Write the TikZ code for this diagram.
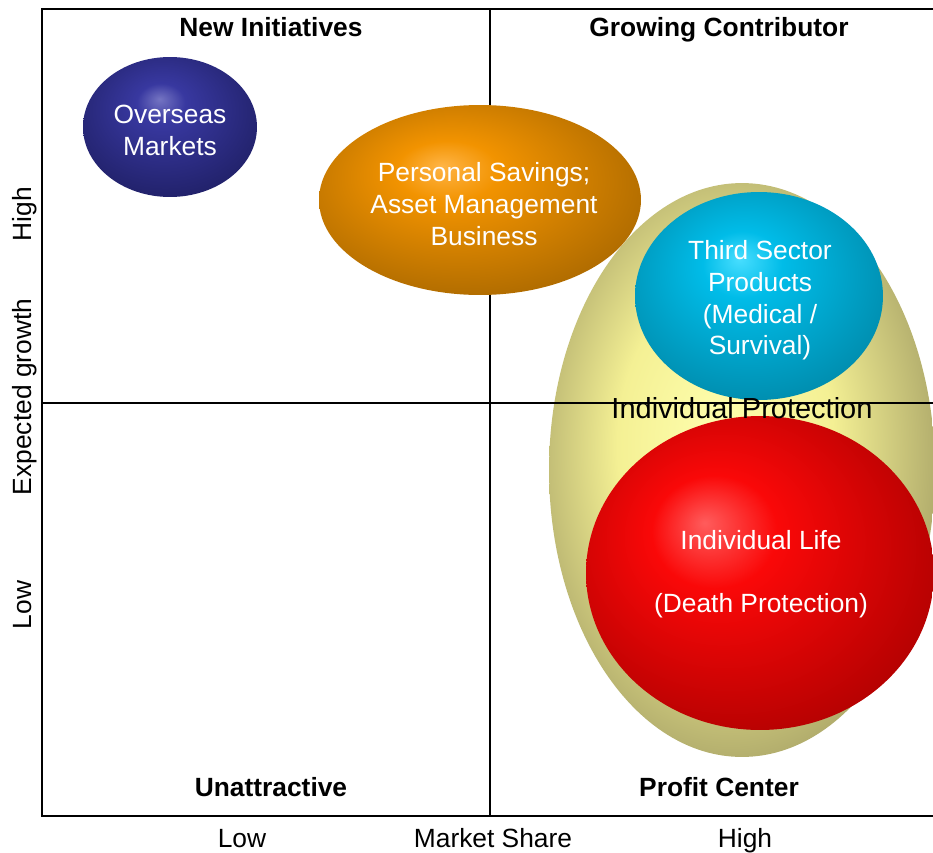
\documentclass[tikz,border=0pt]{standalone}
\usepackage{fontspec}
\setmainfont{Liberation Sans}
\usetikzlibrary{shapes.geometric}

\definecolor{navyhi}{HTML}{7474C2}
\definecolor{navymid}{HTML}{3838A0}
\definecolor{navylo}{HTML}{1E1E62}
\definecolor{amberhi}{HTML}{FFB445}
\definecolor{ambermid}{HTML}{F29300}
\definecolor{amberlo}{HTML}{A66600}
\definecolor{olivehi}{HTML}{FFFFAE}
\definecolor{olivemid}{HTML}{F4F094}
\definecolor{olivelo}{HTML}{B1AC6C}
\definecolor{cyanhi}{HTML}{48DEFF}
\definecolor{cyanmid}{HTML}{00BCE8}
\definecolor{cyanlo}{HTML}{0088A8}
\definecolor{redhi}{HTML}{FF5C5C}
\definecolor{redmid}{HTML}{FA0808}
\definecolor{redlo}{HTML}{A80000}

\pgfdeclareradialshading{navyball}{\pgfpoint{-3bp}{10bp}}{color(0bp)=(navyhi); color(7bp)=(navymid); color(33bp)=(navylo); color(50bp)=(navylo)}
\pgfdeclareradialshading{amberball}{\pgfpoint{-6bp}{9bp}}{color(0bp)=(amberhi); color(8bp)=(ambermid); color(33bp)=(amberlo); color(50bp)=(amberlo)}
\pgfdeclareradialshading{oliveball}{\pgfpoint{-3bp}{3bp}}{color(0bp)=(olivehi); color(14bp)=(olivemid); color(27bp)=(olivelo); color(50bp)=(olivelo)}
\pgfdeclareradialshading{cyanball}{\pgfpoint{-4bp}{9bp}}{color(0bp)=(cyanhi); color(8bp)=(cyanmid); color(32bp)=(cyanlo); color(50bp)=(cyanlo)}
\pgfdeclareradialshading{redball}{\pgfpoint{-8bp}{8bp}}{color(0bp)=(redhi); color(9bp)=(redmid); color(34bp)=(redlo); color(50bp)=(redlo)}

\begin{document}
\begin{tikzpicture}[x=0.02cm, y=-0.02cm,
        font=\fontsize{15}{18}\selectfont,
        bubble/.style={ellipse, inner sep=0pt},
        bubbletext/.style={text=white, align=center},
        lbl/.style={text height=1.5ex, text depth=.25ex},
        quadtitle/.style={lbl, font=\fontsize{15}{18}\selectfont\bfseries},
        frameline/.style={line width=1.2pt}]
    \useasboundingbox (0,0) rectangle (933,852);
    % big protection bubble sits under the grid
    \node[bubble, shading=oliveball, minimum width=7.72cm, minimum height=11.48cm] (protect) at (742,470) {};
    % grid
    \coordinate (tl) at (42,9);
    \coordinate (tr) at (933,9);
    \coordinate (bl) at (42,816);
    \coordinate (br) at (933,816);
    \coordinate (tm) at (490,9);
    \coordinate (bm) at (490,816);
    \coordinate (ml) at (42,403);
    \coordinate (mr) at (933,403);
    \draw[frameline] (tr) -- (tl) -- (bl) -- (br);
    \draw[frameline] (tm) -- (bm);
    \draw[frameline] (ml) -- (mr);
    % quadrant titles
    \foreach \name/\x/\y/\txt in {newini/271/31/New Initiatives, growing/719/31/Growing Contributor,
                                  unattr/271/791/Unattractive, profit/719/791/Profit Center} {
        \node[quadtitle] (\name) at (\x,\y) {\txt};
    }
    % axes
    \node[lbl] (xlow) at (242,842) {Low};
    \node[lbl] (xname) at (493,842) {Market Share};
    \node[lbl] (xhigh) at (745,842) {High};
    \node[lbl, rotate=90] (yhigh) at (26,214) {High};
    \node[lbl, rotate=90] (yname) at (26,397) {Expected growth};
    \node[lbl, rotate=90] (ylow) at (26,605) {Low};
    % business bubbles
    \node[bubble, shading=navyball, minimum width=3.48cm, minimum height=2.8cm] (overseas) at (170,127) {};
    \node[bubble, shading=amberball, minimum width=6.44cm, minimum height=3.8cm] (savings) at (480,200) {};
    \node[bubble, shading=cyanball, minimum width=4.96cm, minimum height=4.16cm] (third) at (759,296) {};
    \node[bubble, shading=redball, minimum width=6.96cm, minimum height=6.28cm] (life) at (760,573) {};
    \node[bubbletext] (overseastxt) at (170,130.5) {Overseas\\Markets};
    \node[bubbletext] (savingstxt) at (484,204) {Personal Savings;\\Asset Management\\Business};
    \node[bubbletext] (thirdtxt) at (760,300.5) {Third Sector\\Products\\(Medical /\\Survival)};
    \node[bubbletext] (lifetxt) at (761,574.5) {Individual Life\\[18pt](Death Protection)};
    \node[font=\fontsize{16.5}{19}\selectfont] (protecttxt) at (742,408) {Individual Protection};
\end{tikzpicture}
\end{document}
